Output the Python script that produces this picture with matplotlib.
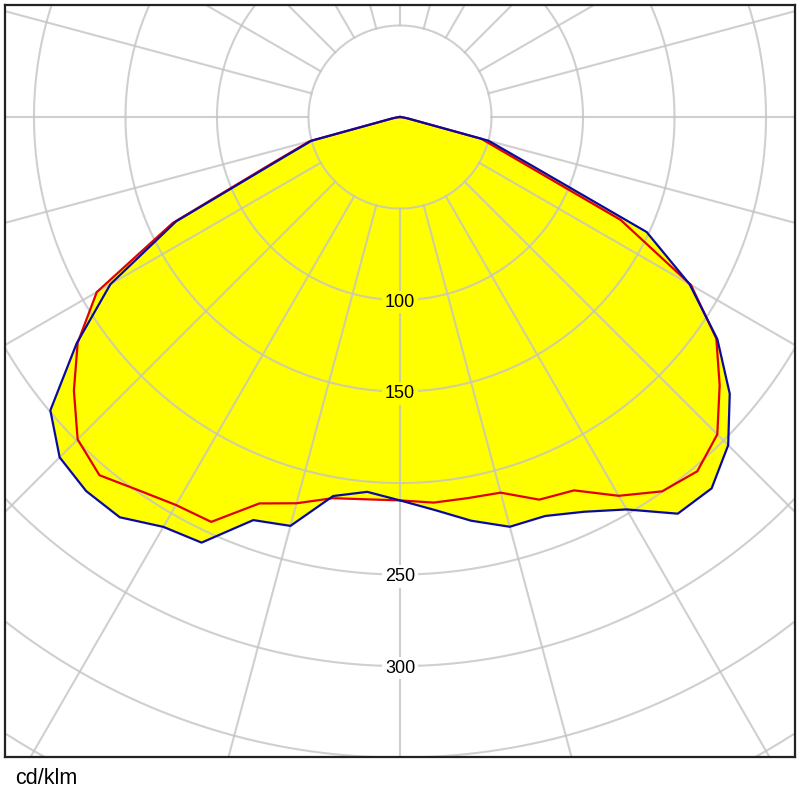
import numpy as np
import matplotlib
matplotlib.use("Agg")
import matplotlib.pyplot as plt

# ---- data (cd/klm), gamma measured from nadir ----
gamma = [0, 5, 10, 15, 20, 25, 30, 35, 40, 45, 50, 55, 60, 65, 70, 75, 80, 85, 90]
blue_c0   = [209.5, 215.5, 224.0, 231.8, 232.0, 238.0, 247.6, 264.6, 264.9, 253.6, 235.2, 211.7, 182.7, 148.7, 75.0, 50.0, 4.0, 1.0, 0.0]
blue_c180 = [209.5, 205.6, 210.3, 231.3, 234.4, 256.6, 258.6, 267.0, 266.8, 263.0, 249.4, 215.7, 182.7, 135.0, 73.0, 50.0, 4.0, 1.0, 0.0]
red_c90   = [209.5, 211.5, 211.5, 212.5, 222.5, 225.1, 239.0, 249.7, 252.7, 245.2, 228.0, 211.0, 183.6, 133.0, 68.0, 46.0, 4.0, 1.0, 0.0]
red_c270  = [209.5, 209.7, 211.5, 218.5, 224.7, 244.1, 244.8, 249.0, 255.5, 249.1, 232.6, 215.0, 191.3, 137.0, 75.0, 51.0, 4.0, 1.0, 0.0]
ring_values = [50, 100, 150, 200, 250, 300, 350, 400, 450]
ring_labels = [100, 150, 250, 300]
unit_label = "cd/klm"

plt.rcParams['font.family'] = ['Liberation Sans', 'DejaVu Sans']

fig = plt.figure(figsize=(8, 8), dpi=100)
ax = fig.add_axes([5/800, 43/800, 790/800, 752/800])
ax.set_xlim(-215.8, 215.8)
ax.set_ylim(-349.7, 61.2)
ax.set_aspect('equal')
ax.set_xticks([]); ax.set_yticks([])
for s in ax.spines.values():
    s.set_linewidth(1.6)
    s.set_color('#222222')

def curve(right, left):
    g = np.deg2rad(np.array(gamma, float))
    rr = np.array(right, float); rl = np.array(left, float)
    xl = -rl * np.sin(g); yl = -rl * np.cos(g)
    xr = rr * np.sin(g); yr = -rr * np.cos(g)
    x = np.concatenate([xl[::-1], xr[1:]])
    y = np.concatenate([yl[::-1], yr[1:]])
    return x, y

bx, by = curve(blue_c0, blue_c180)
rx, ry = curve(red_c90, red_c270)

ax.fill(bx, by, color='#ffff00', zorder=1, lw=0)
ax.fill(rx, ry, color='#ffff00', zorder=1, lw=0)

# grid
gcol = '#c4c4c4'
t = np.linspace(0, 2*np.pi, 721)
for r in ring_values:
    ax.plot(r*np.cos(t), r*np.sin(t), color=gcol, lw=1.5, alpha=0.8, zorder=2)
for k in range(24):
    a = np.deg2rad(k*15)
    ax.plot([50*np.sin(a), 700*np.sin(a)], [-50*np.cos(a), -700*np.cos(a)],
            color=gcol, lw=1.5, alpha=0.8, zorder=2)

ax.plot(rx, ry, color='#e00000', lw=1.6, zorder=3)
ax.plot(bx, by, color='#0a0aa0', lw=1.6, zorder=4)

for r in ring_labels:
    fc = '#ffff00' if r < 200 else 'white'
    ax.text(0, -r, str(r), ha='center', va='center_baseline', fontsize=13, color='black',
            zorder=5, bbox=dict(boxstyle='square,pad=0.15', fc=fc, ec='none'))

fig.text(15/800, 1 - 779/800, unit_label, ha='left', va='center', fontsize=15.5)

fig.savefig('out.png', dpi=100)
